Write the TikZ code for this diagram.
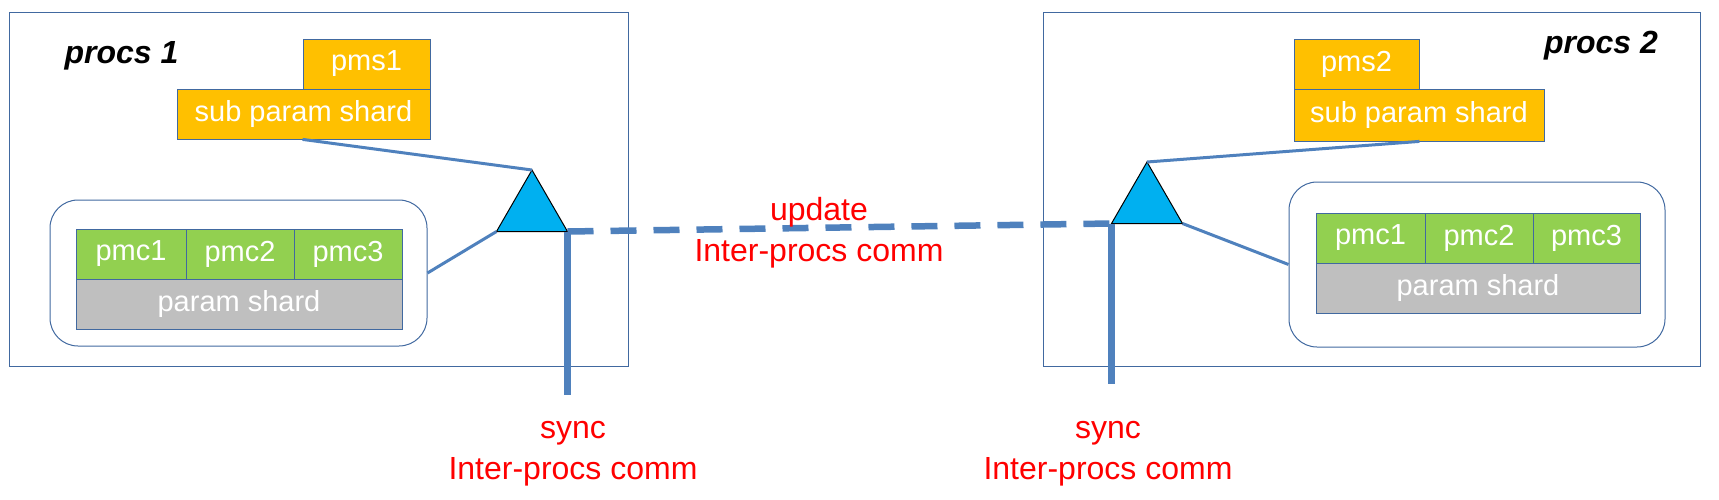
\documentclass[tikz,border=0pt]{standalone}
\usepackage{fontspec}
\setmainfont{Liberation Sans}
\usetikzlibrary{shapes.geometric}
\definecolor{lineblue}{RGB}{79,129,189}
\definecolor{frameblue}{RGB}{65,105,160}
\definecolor{shardorange}{RGB}{255,192,0}
\definecolor{cellgreen}{RGB}{146,208,80}
\definecolor{shardgray}{RGB}{191,191,191}
\definecolor{tricyan}{RGB}{0,176,240}

\begin{document}
\begin{tikzpicture}[x=1pt, y=-1pt,
  procsbox/.style = {draw=frameblue, line width=1pt, inner sep=0pt},
  title/.style = {anchor=base, font=\fontsize{32}{38}\selectfont\bfseries\itshape},
  spbox/.style = {draw=frameblue, line width=0.8pt, fill=shardorange, text=white, inner sep=0pt, minimum height=50pt, font=\fontsize{29}{35}\selectfont},
  pmcbox/.style = {draw=frameblue, line width=0.8pt, fill=cellgreen, text=white, inner sep=0pt, minimum height=50pt, font=\fontsize{29}{35}\selectfont},
  psbox/.style = {draw=frameblue, line width=0.8pt, fill=shardgray, text=white, inner sep=0pt, minimum height=50pt, font=\fontsize{29}{35}\selectfont},
  group/.style = {draw=frameblue, line width=1pt, rounded corners=28pt, inner sep=0pt},
  tri/.style = {regular polygon, regular polygon sides=3, draw=black, line width=1pt, fill=tricyan, minimum size=82pt, inner sep=0pt, outer sep=0pt},
  link/.style = {draw=lineblue, line width=3pt},
  bus/.style = {draw=lineblue, line width=6.5pt},
  note/.style = {text=red, align=center, font=\fontsize{32}{41}\selectfont}]
  \useasboundingbox (0,0) rectangle (1719,499);

  \node[procsbox, minimum width=619pt, minimum height=354pt] (f1) at (318.5,189) {};
  \node[title] (n1) at (121.5,63) {procs 1};
  \node[spbox, minimum width=127pt] (pms1) at (366.5,64) {pms1};
  \node[spbox, minimum width=253pt] (sub1) at (303.5,114) {sub param shard};
  \node[group, minimum width=377pt, minimum height=146pt] (g1) at (238.5,273) {};
  \node[pmcbox, minimum width=110pt] (a1) at (131,254) {pmc1};
  \node[pmcbox, minimum width=108pt] (a2) at (240,254) {pmc2};
  \node[pmcbox, minimum width=108pt] (a3) at (348,254) {pmc3};
  \node[psbox, minimum width=326pt] (ps1) at (239,304) {param shard};
  \node[tri] (t1) at (532,211) {};

  \node[procsbox, minimum width=657pt, minimum height=354pt] (f2) at (1372,189) {};
  \node[title] (n2) at (1601,53) {procs 2};
  \node[spbox, minimum width=125pt] (pms2) at (1356.5,64) {pms2};
  \node[spbox, minimum width=250pt, minimum height=52pt] (sub2) at (1419,115) {sub param shard};
  \node[group, minimum width=376pt, minimum height=165pt] (g2) at (1477,264.5) {};
  \node[pmcbox, minimum width=109pt] (b1) at (1370.5,238) {pmc1};
  \node[pmcbox, minimum width=108pt] (b2) at (1479,238) {pmc2};
  \node[pmcbox, minimum width=107pt] (b3) at (1586.5,238) {pmc3};
  \node[psbox, minimum width=324pt] (ps2) at (1478,288) {param shard};
  \node[tri] (t2) at (1147,203) {};

  \coordinate (e1) at (570,395);
  \coordinate (e2) at (1110,384);

  \draw[link] (sub1.south -| pms1.west) -- (t1.corner 1);
  \draw[link] (g1.east) -- (t1.corner 2);
  \draw[link] (sub2.south -| pms2.east) -- (t2.corner 1);
  \draw[link] (t2.corner 3) -- (g2.west);
  \draw[bus] (t1.corner 3) -- (t1.corner 3 |- e1);
  \draw[bus] (t2.corner 2) -- (t2.corner 2 |- e2);
  \draw[bus, dash pattern=on 26pt off 17pt] (t1.corner 3) -- (t2.corner 2);

  \node[note] (u) at (819,233) {update\\Inter-procs comm};
  \node[note] (y1) at (573,454) {sync\\Inter-procs comm};
  \node[note] (y2) at (1108,454) {sync\\Inter-procs comm};
\end{tikzpicture}
\end{document}
